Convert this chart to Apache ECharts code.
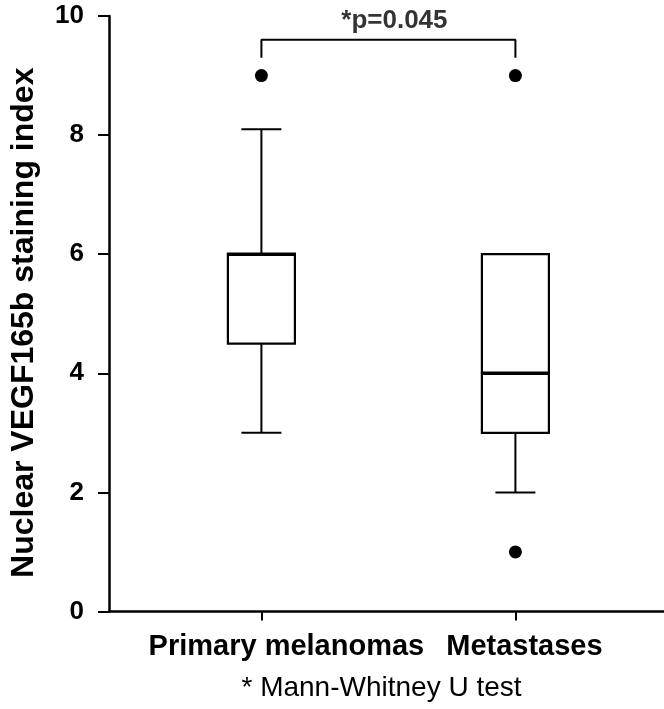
<!DOCTYPE html>
<html>
<head>
<meta charset="utf-8">
<script src="https://cdn.jsdelivr.net/npm/echarts@6/dist/echarts.min.js"></script>
<style>
html, body { margin: 0; padding: 0; background: #fff; }
#chart { width: 664px; height: 709px; }
</style>
</head>
<body>
<div id="chart"></div>
<script>
// ---- data ----
const categories = ['Primary melanomas', 'Metastases'];
const categoryPos = [1, 2];
const whiskerLow = [3, 2];
const quartile1 = [4.5, 3];
const medianVal = [6, 4];
const quartile3 = [6, 6];
const whiskerHigh = [8.1, 6];
const outlierGroup = [1, 2, 2];
const outlierValue = [9, 9, 1];
const bracketLow = 9.3;
const bracketHigh = 9.6;
const pLabel = '*p=0.045';
const yTitle = 'Nuclear VEGF165b staining index';
const xTitle = '* Mann-Whitney U test';
const yMin = 0, yMax = 10, yStep = 2;

const FONT = '"Liberation Sans", Arial, Helvetica, sans-serif';

const boxData = categoryPos.map((p, i) => [p, whiskerLow[i], quartile1[i], medianVal[i], quartile3[i], whiskerHigh[i]]);
const outlierData = outlierGroup.map((g, i) => [g, outlierValue[i]]);
const bracketData = [
  [categoryPos[0], bracketLow], [categoryPos[0], bracketHigh],
  [categoryPos[1], bracketHigh], [categoryPos[1], bracketLow]
];
const pLabelData = [[(categoryPos[0] + categoryPos[1]) / 2, bracketHigh]];

const chart = echarts.init(document.getElementById('chart'), null, { renderer: 'canvas' });

function renderBox(params, api) {
  const x = api.value(0);
  const lo = api.coord([x, api.value(1)]);
  const q1 = api.coord([x, api.value(2)]);
  const md = api.coord([x, api.value(3)]);
  const q3 = api.coord([x, api.value(4)]);
  const hi = api.coord([x, api.value(5)]);
  const bw = 67, cw = 40;
  const cx = lo[0];
  const ls = { stroke: '#000', lineWidth: 2 };
  return {
    type: 'group',
    children: [
      { type: 'line', shape: { x1: cx, y1: q3[1], x2: cx, y2: hi[1] }, style: ls },
      { type: 'line', shape: { x1: cx, y1: q1[1], x2: cx, y2: lo[1] }, style: ls },
      { type: 'line', shape: { x1: cx - cw / 2, y1: hi[1], x2: cx + cw / 2, y2: hi[1] }, style: ls },
      { type: 'line', shape: { x1: cx - cw / 2, y1: lo[1], x2: cx + cw / 2, y2: lo[1] }, style: ls },
      { type: 'rect', shape: { x: cx - bw / 2, y: q3[1], width: bw, height: q1[1] - q3[1] }, style: { fill: '#fff', stroke: '#000', lineWidth: 2.2 } },
      { type: 'line', shape: { x1: cx - bw / 2 - 1, y1: md[1], x2: cx + bw / 2 + 1, y2: md[1] }, style: { stroke: '#000', lineWidth: 3.5 } }
    ]
  };
}

const labelStyle = { color: '#000', fontFamily: FONT, fontWeight: 'bold', fontSize: 29 };

const option = {
  animation: false,
  backgroundColor: '#fff',
  grid: { left: 108, right: 0, top: 16, bottom: 97.5, containLabel: false },
  xAxis: {
    type: 'value',
    min: 0.4,
    max: 2.585,
    splitLine: { show: false },
    axisLine: { show: true, onZero: false, lineStyle: { color: '#000', width: 2.5 } },
    axisTick: { show: true, customValues: categoryPos, length: 9, lineStyle: { color: '#000', width: 2 } },
    axisLabel: {
      show: true,
      customValues: categoryPos,
      formatter: v => (categoryPos.indexOf(v) === 0 ? '{a|' : '{b|') + categories[categoryPos.indexOf(v)] + '}',
      margin: 21,
      rich: {
        a: Object.assign({ padding: [0, 0, 0, 50] }, labelStyle),
        b: Object.assign({ padding: [0, 0, 0, 18] }, labelStyle)
      }
    },
    name: xTitle,
    nameLocation: 'middle',
    nameGap: 63,
    nameTextStyle: { color: '#000', fontFamily: FONT, fontSize: 28, padding: [0, 10, 0, 0] }
  },
  yAxis: {
    type: 'value',
    min: yMin, max: yMax, interval: yStep,
    splitLine: { show: false },
    axisLine: { show: true, lineStyle: { color: '#000', width: 2.5 } },
    axisTick: { show: true, length: 11, lineStyle: { color: '#000', width: 2 } },
    axisLabel: { color: '#000', fontFamily: FONT, fontWeight: 'bold', fontSize: 26, margin: 25 },
    name: yTitle,
    nameLocation: 'middle',
    nameRotate: 90,
    nameGap: 69,
    nameTextStyle: { color: '#000', fontFamily: FONT, fontWeight: 'bold', fontSize: 32, padding: [0, 18, 0, 0] }
  },
  series: [
    {
      type: 'custom',
      renderItem: renderBox,
      data: boxData,
      encode: { x: 0, y: [1, 2, 3, 4, 5] },
      z: 2
    },
    {
      type: 'scatter',
      data: outlierData,
      symbol: 'circle',
      symbolSize: 13,
      itemStyle: { color: '#000', opacity: 1 },
      z: 3
    },
    {
      type: 'line',
      data: bracketData,
      showSymbol: false,
      symbol: 'none',
      lineStyle: { color: '#000', width: 2 },
      z: 3
    },
    {
      type: 'scatter',
      data: pLabelData,
      symbolSize: 0,
      label: {
        show: true, position: 'top', distance: 6,
        formatter: pLabel,
        padding: [0, 0, 0, 12],
        color: '#000', fontFamily: FONT, fontWeight: 'bold', fontSize: 26
      },
      z: 3
    }
  ]
};
chart.setOption(option);
</script>
</body>
</html>
